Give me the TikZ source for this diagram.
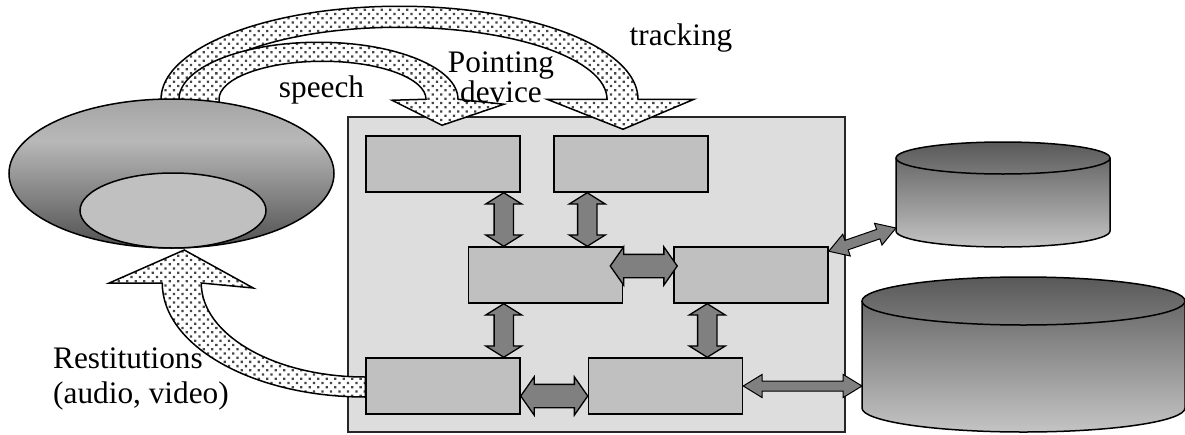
\documentclass[tikz,border=0pt]{standalone}
\usepackage{fontspec}
\setmainfont{Liberation Serif}
\usetikzlibrary{shapes.geometric, shapes.arrows, patterns.meta, calc}

\definecolor{panel}{HTML}{DDDDDD}
\definecolor{modgray}{HTML}{C0C0C0}
\definecolor{linkgray}{HTML}{808080}
\definecolor{cyldark}{HTML}{595959}
\definecolor{cyllight}{HTML}{C4C4C4}
\definecolor{userA}{HTML}{505050}
\definecolor{userB}{HTML}{8A8A8A}
\definecolor{userC}{HTML}{B8B8B8}
\definecolor{userD}{HTML}{A4A4A4}
\pgfdeclareverticalshading{userfade}{100bp}{color(0bp)=(userA); color(25bp)=(userA); color(45bp)=(userB); color(61bp)=(userC); color(75bp)=(userD); color(100bp)=(userD)}

\pgfdeclarelayer{bottom}
\pgfdeclarelayer{back}
\pgfsetlayers{bottom,back,main}

\newcommand\dblink[3][]{\path let \p1=#2, \p2=#3, \n1={veclen(\x2-\x1,\y2-\y1)} in (\p1) -- (\p2) node[midway, sloped, link, minimum height=\n1, #1] {};}

\begin{document}
\begin{tikzpicture}[x=1pt, y=1pt,
  txt/.style={font=\fontsize{31.3}{35}\selectfont, inner sep=0pt},
  module/.style={draw, line width=1.5pt, fill=modgray, minimum width=154pt, minimum height=56pt, inner sep=0pt},
  link/.style={double arrow, draw, line width=1.3pt, fill=linkgray, inner xsep=0pt, inner ysep=9pt, minimum width=0pt, double arrow head extend=8.5pt, double arrow tip angle=116},
  widelink/.style={inner ysep=11pt, double arrow head extend=7.5pt, double arrow tip angle=110},
  thinlink/.style={inner ysep=4.5pt, double arrow head extend=6.5pt, double arrow tip angle=63, line width=1pt},
  dotband/.style={draw, line width=1.5pt, preaction={fill=white}, pattern={Dots[distance=6pt, radius=1.6pt, angle=45]}, pattern color=gray!55!black},
  disk/.style={draw, line width=1.5pt, top color=cyldark, bottom color=cyllight}]
\useasboundingbox (0,0) rectangle (1185,-434);

\begin{pgfonlayer}{bottom}
\node (sys) [draw=black!85, line width=1.8pt, fill=panel, minimum width=497pt, minimum height=315pt, inner sep=0pt] at (596.5,-274.5) {};
\end{pgfonlayer}

\node (user) [ellipse, draw, line width=1.5pt, inner sep=0pt, minimum width=325pt, minimum height=149pt, shading=userfade] at (171.5,-173.5) {};
\node (screen) [ellipse, draw, line width=1.5pt, inner sep=0pt, fill=modgray, minimum width=186pt, minimum height=75pt] at (173,-210.5) {};

\node (speechmod) [module] at (443,-164) {};
\node (trackmod) [module] at (631,-164) {};
\node (core) [module] at (545.5,-275) {};
\node (dialog) [module] at (751,-275) {};
\node (render) [module] at (443,-386) {};
\node (gen) [module] at (665.5,-386) {};

\foreach \cx/\rx/\yt/\yb/\ry in {1003/107/-158/-231/16, 1023.5/161.5/-301/-408/24}{
  \draw[disk] (\cx-\rx,\yt) -- (\cx-\rx,\yb) arc[start angle=180, end angle=360, x radius=\rx, y radius=\ry] -- (\cx+\rx,\yt) arc[start angle=0, end angle=180, x radius=\rx, y radius=\ry] -- cycle;
  \draw[line width=1.5pt] (\cx-\rx,\yt) arc[start angle=180, end angle=360, x radius=\rx, y radius=\ry];
}
\coordinate (dbsmall) at (896,-228);
\coordinate (dblarge) at (862,-386);

\dblink{([xshift=-17pt]speechmod.south east)}{([xshift=-17pt]speechmod.south east |- core.north)}
\dblink{([xshift=34pt]trackmod.south west)}{([xshift=34pt]trackmod.south west |- core.north)}
\dblink{([xshift=-17pt]render.north east |- core.south)}{([xshift=-17pt]render.north east)}
\dblink{([xshift=34pt]dialog.south west)}{([xshift=34pt]dialog.south west |- gen.north)}
\dblink[widelink]{([shift={(-13,9)}]core.east)}{([shift={(4,9)}]dialog.west)}
\dblink[widelink]{([yshift=-10]render.east)}{([yshift=-10]gen.west)}
\dblink[thinlink]{(gen.east)}{(dblarge)}
\dblink[thinlink]{([yshift=-5]dialog.north east)}{(dbsmall)}

\begin{pgfonlayer}{back}
\draw[dotband] ([shift={(-10.5,-11)}]user.north) -- ++(0,10) arc[start angle=180, end angle=0, x radius=238.5, y radius=93] -- ++(56,0) -- ++(-71,-30) -- ++(-76,30) -- ++(60,0) arc[start angle=0, end angle=180, x radius=207.5, y radius=72] -- ++(0,-10) -- cycle;
\draw[dotband] ([shift={(7.5,-11)}]user.north) -- ++(0,10) arc[start angle=180, end angle=0, x radius=139.5, y radius=57] -- ++(46,-5) -- ++(-62,-21) -- ++(-50,25) -- ++(34,1) arc[start angle=0, end angle=180, x radius=103.5, y radius=38] -- ++(0,-10) -- cycle;
\draw[dotband] ([yshift=-11]render.west) arc[start angle=270, end angle=180, x radius=203, y radius=114] -- ++(-53,0) -- ++(75,33) -- ++(69,-38) -- ++(-52,5) arc[start angle=180, end angle=270, x radius=164, y radius=94] -- cycle;
\end{pgfonlayer}

\node (speechlbl) [txt, anchor=base] at (321.5,-97) {speech};
\node (pointlbl) [txt, align=center, anchor=base] at (501,-102) {Pointing\\[-5pt]device};
\node (tracklbl) [txt, anchor=base] at (681,-45) {tracking};
\node (restlbl) [txt, align=left, anchor=base west] at (53,-403) {Restitutions\\(audio, video)};
\end{tikzpicture}
\end{document}
